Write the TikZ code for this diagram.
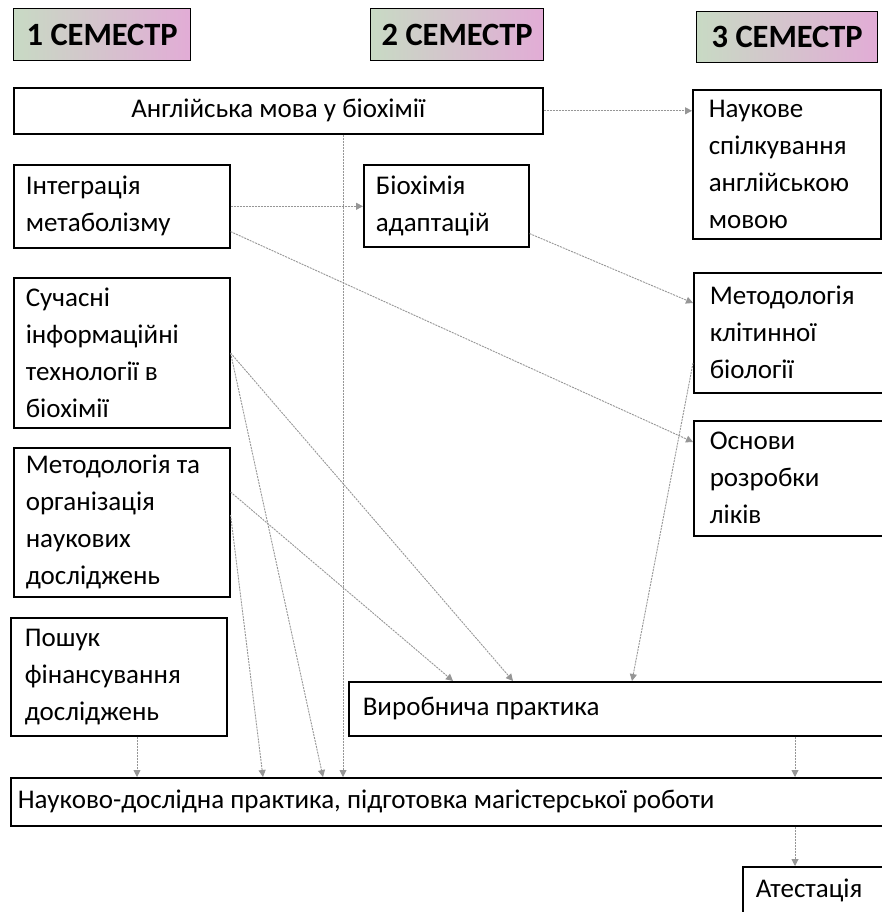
\documentclass[tikz,border=0pt]{standalone}
\usepackage{fontspec}
\setmainfont{Carlito}
\usetikzlibrary{arrows.meta,calc}
\definecolor{hdrL}{RGB}{200,218,196}
\definecolor{hdrR}{RGB}{226,172,214}
\definecolor{arr}{RGB}{150,150,150}
\tikzset{
 box/.style={draw=black, line width=1.6pt, fill=white, rectangle, font=\fontsize{27}{37}\selectfont, inner ysep=2pt},
 hdr/.style={draw=black, line width=1.4pt, left color=hdrL, right color=hdrR, font=\bfseries\fontsize{32.5}{34}\selectfont, inner sep=0pt},
 conn/.style={draw=arr, line width=0.9pt, dash pattern=on 2pt off 1pt, -{Triangle[width=7pt,length=7pt]}}
}
\newcommand{\mybox}[7]{%
 \pgfmathsetmacro{\myW}{#4-#2}%
 \pgfmathsetmacro{\myH}{#5-#3}%
 \pgfmathsetmacro{\myT}{#4-#2-2*#6}%
 \node[box, anchor=north west, inner xsep=#6pt, minimum width=\myW pt, minimum height=\myH pt, text width=\myT pt, align=flush left] (#1) at (#2,#3) {#7};}
\begin{document}
\begin{tikzpicture}[x=1pt,y=-1pt]
\useasboundingbox[fill=white] (0,0) rectangle (882,912);
% headers
\node[hdr, anchor=north west, minimum width=177pt, minimum height=52pt] (h1) at (13,8) {1 СЕМЕСТР};
\node[hdr, anchor=north west, minimum width=173pt, minimum height=52pt] (h2) at (370,8) {2 СЕМЕСТР};
\node[hdr, anchor=north west, minimum width=181pt, minimum height=51pt] (h3) at (696,11) {3 СЕМЕСТР};
% boxes
\node[box, anchor=north west, minimum width=529pt, minimum height=46pt, align=center] (eng) at (13,87) {Англійська мова у біохімії};
\mybox{nauk}{692}{89}{880}{238}{16}{Наукове\\спілкування\\англійською\\мовою}
\mybox{integr}{13}{164}{229}{247}{12}{Інтеграція\\метаболізму}
\mybox{biochem}{363}{164}{528}{246}{12}{Біохімія\\адаптацій}
\mybox{suchasni}{13}{277}{229}{427}{12}{Сучасні\\інформаційні\\технології в\\біохімії}
\mybox{metod}{13}{447}{229}{596}{12}{Методологія та\\організація\\наукових\\досліджень}
\mybox{poshuk}{10}{617}{226}{735}{14}{Пошук\\фінансування\\досліджень}
\mybox{metklit}{693}{272}{886}{392}{16}{Методологія\\клітинної\\біології}
\mybox{osnovy}{693}{420}{886}{535}{16}{Основи\\розробки\\ліків}
\mybox{vyrob}{348}{681}{886}{735}{14}{Виробнича практика}
\mybox{naukd}{10}{777}{886}{825}{7}{Науково-дослідна практика, підготовка магістерської роботи}
\mybox{atest}{742}{866}{886}{914}{13}{Атестація}
% connectors
\draw[conn] (eng.east) -- (eng.east -| nauk.west);
\draw[conn] (integr.east) -- (integr.east -| biochem.west);
\draw[conn] ($(integr.south east)+(0,-17)$) -- ($(osnovy.north west)+(0,22)$);
\draw[conn] ($(biochem.south east)+(0,-14)$) -- ($(metklit.north west)+(0,31)$);
\draw[conn] ($(metklit.north west)+(0,91)$) -- ($(vyrob.north west)+(284,0)$);
\draw[conn] ($(suchasni.north east)+(0,76)$) -- ($(vyrob.north west)+(165,0)$);
\draw[conn] ($(suchasni.north east)+(0,76)$) -- ($(naukd.north west)+(313,0)$);
\draw[conn] ($(metod.north east)+(0,45)$) -- ($(vyrob.north west)+(105,0)$);
\draw[conn] ($(metod.north east)+(0,68)$) -- ($(naukd.north west)+(253,0)$);
\draw[conn] ($(poshuk.south west)+(127,0)$) -- ($(naukd.north west)+(127,0)$);
\draw[conn] ($(eng.south west)+(330,0)$) -- ($(naukd.north west)+(333,0)$);
\draw[conn] ($(vyrob.south west)+(447,0)$) -- ($(naukd.north west)+(785,0)$);
\draw[conn] ($(naukd.south west)+(785,0)$) -- ($(atest.north west)+(53,0)$);
\end{tikzpicture}
\end{document}
